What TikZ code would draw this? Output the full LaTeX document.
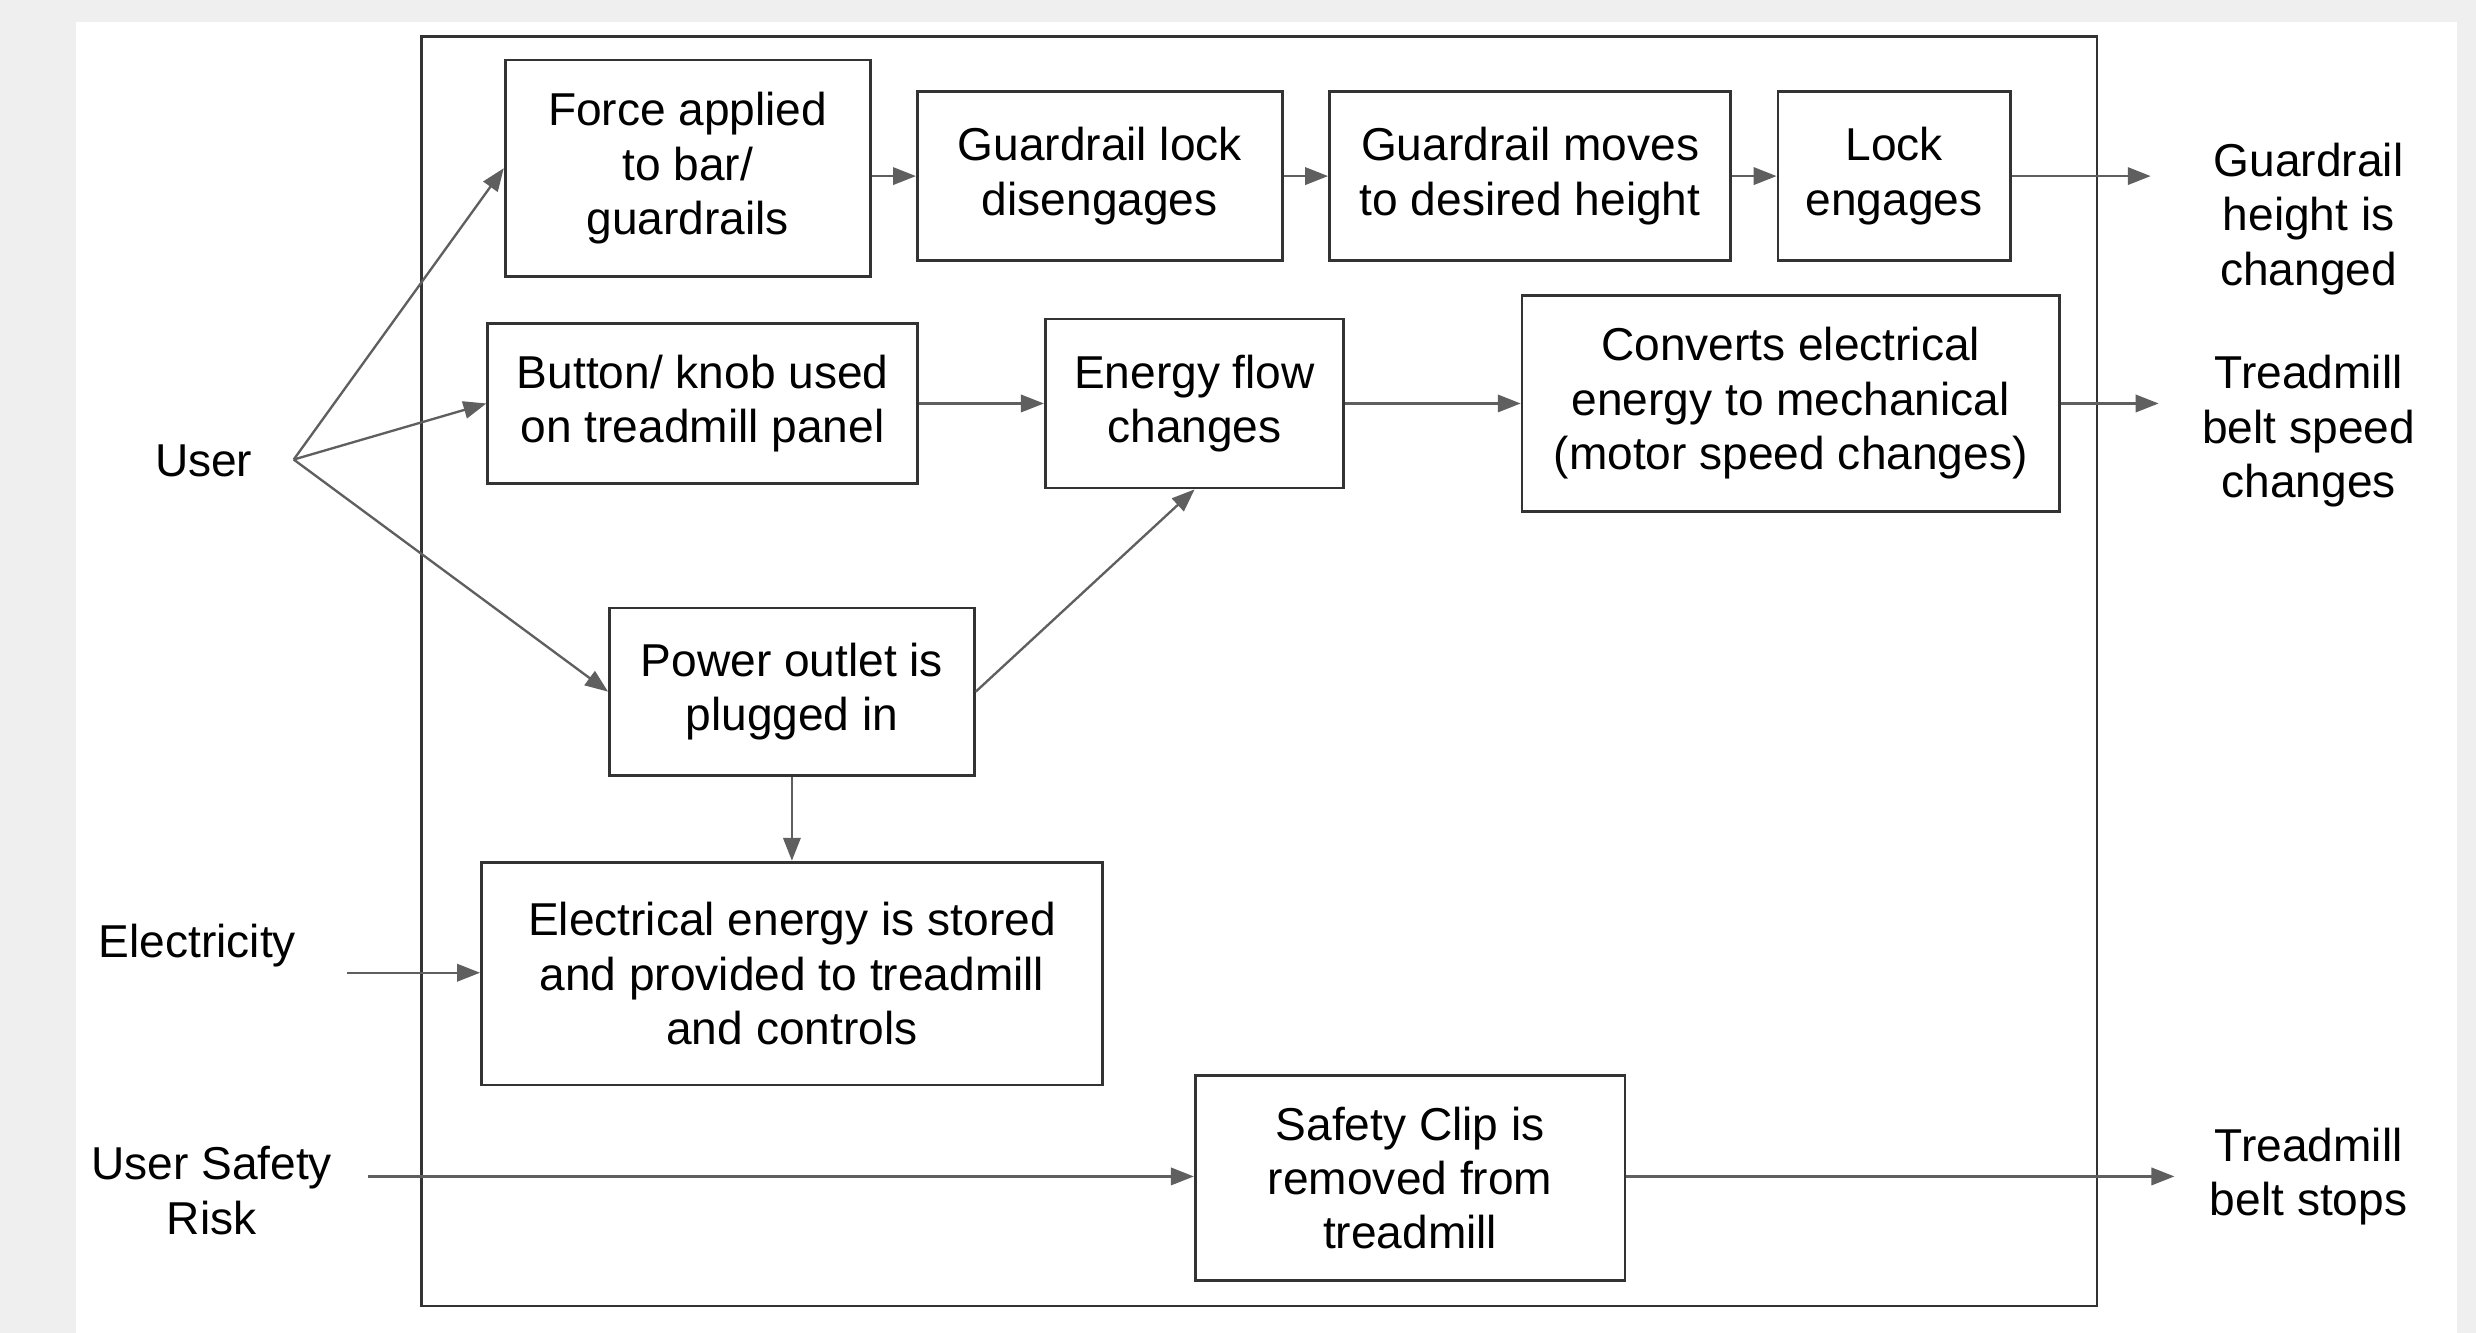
\documentclass[tikz,border=0pt]{standalone}
\usepackage{fontspec}
\setmainfont{Liberation Sans}
\usetikzlibrary{arrows.meta}
\definecolor{bggray}{HTML}{EFEFEF}
\definecolor{boxline}{HTML}{333333}
\definecolor{arrline}{HTML}{5F5F5F}
\begin{document}
\begin{tikzpicture}[x=0.01cm,y=-0.01cm,
  box/.style={draw=boxline, line width=0.5pt, align=center, inner sep=0pt,
    font=\fontsize{8.3}{9.8}\selectfont, text=black},
  lbl/.style={align=center, inner sep=0pt, font=\fontsize{8.3}{9.8}\selectfont, text=black},
  arr/.style={draw=arrline, line width=0.42pt, -{Triangle[length=0.145cm,width=0.11cm]}}]
\useasboundingbox (0,0) rectangle (1568,844);
\fill[bggray] (0,0) rectangle (1568,844);
\fill[white] (48,14) rectangle (1556,844);
\draw[boxline, line width=0.5pt] (267,23) rectangle (1328,827);

% boxes
\node[box, minimum width=2.31cm, minimum height=1.37cm] (force) at (435.5,106.5) {Force applied\\to bar/\\guardrails};
\node[box, minimum width=2.31cm, minimum height=1.07cm] (lockdis) at (696.5,111.5) {Guardrail lock\\disengages};
\node[box, minimum width=2.54cm, minimum height=1.07cm] (moves) at (969,111.5) {Guardrail moves\\to desired height};
\node[box, minimum width=1.47cm, minimum height=1.07cm] (lockeng) at (1199.5,111.5) {Lock\\engages};
\node[box, minimum width=2.72cm, minimum height=1.01cm] (button) at (445,255.5) {Button/ knob used\\on treadmill panel};
\node[box, minimum width=1.89cm, minimum height=1.07cm] (energy) at (756.5,255.5) {Energy flow\\changes};
\node[box, minimum width=3.40cm, minimum height=1.37cm] (converts) at (1134,255.5) {Converts electrical\\energy to mechanical\\(motor speed changes)};
\node[box, minimum width=2.31cm, minimum height=1.06cm] (power) at (501.5,438) {Power outlet is\\plugged in};
\node[box, minimum width=3.93cm, minimum height=1.41cm] (stored) at (501.5,616.5) {Electrical energy is stored\\and provided to treadmill\\and controls};
\node[box, minimum width=2.72cm, minimum height=1.30cm] (clip) at (893,746) {Safety Clip is\\removed from\\treadmill};

% outer labels
\node[lbl] (user) at (129,292) {User};
\node[lbl] (elec) at (125,599) {Electricity};
\node[lbl] (risk) at (134,754) {User Safety\\Risk};
\node[lbl] (ghc) at (1462,138.5) {Guardrail\\height is\\changed};
\node[lbl] (tbsc) at (1462,273) {Treadmill\\belt speed\\changes};
\node[lbl] (tbs) at (1462,745) {Treadmill\\belt stops};

% free ends
\coordinate (uo) at (186,291);
\coordinate (eo) at (220,616);
\coordinate (ro) at (233,745);
\coordinate (gin) at (1362,111.5);
\coordinate (sin) at (1367,255.5);
\coordinate (bin) at (1377,745);

% connectors
\draw[arr] (uo) -- (force.west);
\draw[arr] (uo) -- (button.west);
\draw[arr] (uo) -- (power.west);
\draw[arr] (force.east |- lockdis.west) -- (lockdis.west);
\draw[arr] (lockdis.east) -- (moves.west);
\draw[arr] (moves.east) -- (lockeng.west);
\draw[arr] (lockeng.east) -- (gin);
\draw[arr] (button.east) -- (energy.west);
\draw[arr] (energy.east) -- (converts.west);
\draw[arr] (converts.east) -- (sin);
\draw[arr] (power.east) -- (energy.south);
\draw[arr] (power.south) -- (stored.north);
\draw[arr] (eo) -- (stored.west |- eo);
\draw[arr] (ro) -- (clip.west |- ro);
\draw[arr] (clip.east |- ro) -- (bin);
\end{tikzpicture}
\end{document}
